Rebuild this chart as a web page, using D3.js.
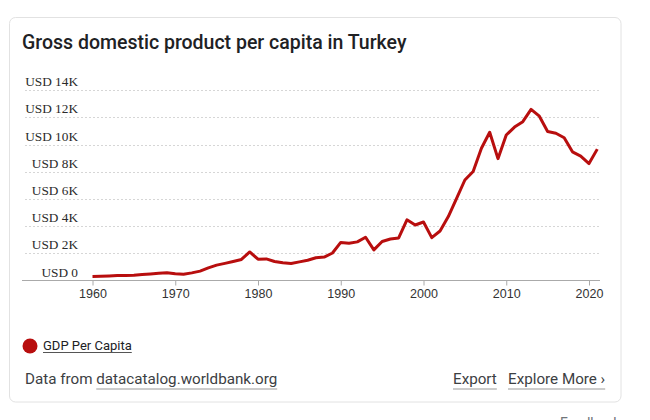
<!DOCTYPE html>
<html>
<head>
<meta charset="utf-8">
<script src="https://cdn.jsdelivr.net/npm/d3@7"></script>
<style>
  html, body { margin: 0; padding: 0; background: #fff; }
  svg { display: block; }
</style>
</head>
<body>
<svg id="chart" width="650" height="420"></svg>
<script>
const years = [1960,1961,1962,1963,1964,1965,1966,1967,1968,1969,
  1970,1971,1972,1973,1974,1975,1976,1977,1978,1979,
  1980,1981,1982,1983,1984,1985,1986,1987,1988,1989,
  1990,1991,1992,1993,1994,1995,1996,1997,1998,1999,
  2000,2001,2002,2003,2004,2005,2006,2007,2008,2009,
  2010,2011,2012,2013,2014,2015,2016,2017,2018,2019,
  2020,2021];
const gdpPerCapita = [300,310,330,360,375,390,440,480,525,570,
  490,455,560,690,930,1130,1260,1400,1550,2100,
  1570,1590,1400,1300,1250,1370,1490,1670,1720,2020,
  2800,2740,2840,3180,2250,2870,3050,3130,4460,4080,
  4300,3150,3640,4700,6040,7390,8020,9720,10900,8960,
  10700,11280,11680,12580,12080,10950,10830,10500,9460,9150,
  8600,9660];
const yTicks = [0,2000,4000,6000,8000,10000,12000,14000];
const yTickLabels = ["USD 0","USD 2K","USD 4K","USD 6K","USD 8K","USD 10K","USD 12K","USD 14K"];
const xTicks = [1960,1970,1980,1990,2000,2010,2020];
const title = "Gross domestic product per capita in Turkey";
const seriesName = "GDP Per Capita";

const svg = d3.select("#chart");
const lineColor = "#b80e0e";

// card
svg.append("rect")
  .attr("x", 9.5).attr("y", 17.5).attr("width", 611.5).attr("height", 384.5)
  .attr("rx", 6).attr("fill", "#fff").attr("stroke", "#e2e2e2");

svg.append("text")
  .attr("x", 22).attr("y", 49)
  .attr("font-family", "Roboto, 'Open Sans', sans-serif")
  .attr("font-weight", 500).attr("font-size", 19.5)
  .attr("fill", "#202124")
  .text(title);

const x = d3.scaleLinear().domain([1960, 2020]).range([92.5, 589]);
const y = d3.scaleLinear().domain([0, 14000]).range([280.5, 90.1]);

// gridlines
svg.append("g").selectAll("line")
  .data(yTicks.filter(d => d > 0))
  .join("line")
  .attr("x1", 25).attr("x2", 600)
  .attr("y1", d => Math.round(y(d)) + 0.5).attr("y2", d => Math.round(y(d)) + 0.5)
  .attr("stroke", "#d6d6d6").attr("stroke-dasharray", "2,2");

// y labels
svg.append("g").selectAll("text")
  .data(yTicks)
  .join("text")
  .attr("x", 78).attr("y", d => y(d) - 4)
  .attr("text-anchor", "end")
  .attr("font-family", "'Liberation Serif', 'Times New Roman', serif")
  .attr("font-size", 13.3).attr("fill", "#2a2a2a")
  .text((d, i) => yTickLabels[i]);

// x axis
const xAxis = d3.axisBottom(x).tickValues(xTicks).tickFormat(d3.format("d")).tickSize(5).tickSizeOuter(0);
const gx = svg.append("g").attr("transform", "translate(0,280.5)").call(xAxis);
gx.select(".domain").remove();
gx.append("line").attr("x1", 22).attr("x2", 600).attr("stroke", "#aaa");
gx.selectAll(".tick line").attr("stroke", "#aaa");
gx.selectAll(".tick text")
  .attr("font-family", "'Liberation Sans', Arial, sans-serif")
  .attr("font-size", 12.5).attr("fill", "#333").attr("dy", "0.71em").attr("y", 9);

// line
const line = d3.line().x((d, i) => x(years[i])).y(d => y(d));
svg.append("path")
  .datum(gdpPerCapita)
  .attr("d", line)
  .attr("fill", "none")
  .attr("stroke", lineColor)
  .attr("stroke-width", 3)
  .attr("stroke-linejoin", "round");

// legend
svg.append("circle").attr("cx", 30).attr("cy", 346).attr("r", 7.5).attr("fill", lineColor);
const lg = svg.append("text").attr("x", 43).attr("y", 349.5)
  .attr("font-family", "Roboto, sans-serif").attr("font-size", 13).attr("fill", "#202124")
  .text(seriesName);
const lw = lg.node().getComputedTextLength();
svg.append("line").attr("x1", 43).attr("x2", 43 + lw).attr("y1", 352.5).attr("y2", 352.5)
  .attr("stroke", "#555").attr("stroke-width", 1);

// footer
const foot = svg.append("text").attr("x", 25).attr("y", 384)
  .attr("font-family", "Roboto, sans-serif").attr("font-size", 15.2).attr("fill", "#3c4043");
foot.append("tspan").text("Data from ");
const link = foot.append("tspan").text("datacatalog.worldbank.org");

function underline(x1, x2, yy) {
  svg.append("line").attr("x1", x1).attr("x2", x2).attr("y1", yy).attr("y2", yy)
    .attr("stroke", "#bbb").attr("stroke-width", 1.5);
}
{
  const fl = foot.node().getComputedTextLength();
  const ll = link.node().getComputedTextLength();
  underline(25 + fl - ll, 25 + fl, 389);
}
const exp = svg.append("text").attr("x", 453).attr("y", 384)
  .attr("font-family", "Roboto, sans-serif").attr("font-size", 15.2).attr("fill", "#3c4043")
  .text("Export");
underline(453, 453 + exp.node().getComputedTextLength(), 389);
const more = svg.append("text").attr("x", 508).attr("y", 384)
  .attr("font-family", "Roboto, sans-serif").attr("font-size", 15.2).attr("fill", "#3c4043")
  .text("Explore More ›");
underline(508, 508 + more.node().getComputedTextLength(), 389);

svg.append("text").attr("x", 560).attr("y", 428)
  .attr("font-family", "Roboto, sans-serif").attr("font-size", 14).attr("fill", "#70757a")
  .text("Feedback");
</script>
</body>
</html>
